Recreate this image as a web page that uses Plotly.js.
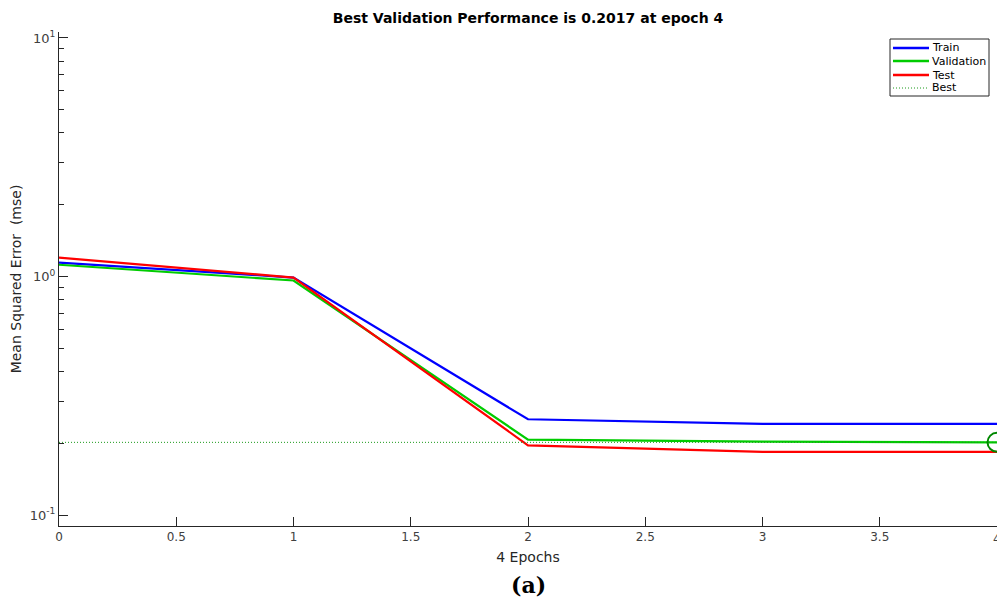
<!DOCTYPE html>
<html>
<head>
<meta charset="utf-8">
<script src="https://cdn.plot.ly/plotly-3.0.1.min.js"></script>
<style>html,body{margin:0;padding:0;background:#fff;}#chart{width:997px;height:604px;}</style>
</head>
<body>
<div id="chart"></div>
<script>
// Training record: mean squared error per epoch
const epochs = [0, 1, 2, 3, 4];
const trainErr = [1.144, 0.99, 0.252, 0.241, 0.241];
const validErr = [1.12, 0.962, 0.207, 0.203, 0.2017];
const testErr = [1.20, 0.99, 0.196, 0.184, 0.184];
const bestEpoch = 4;
const bestValue = 0.2017;
const xTicks = [0, 0.5, 1, 1.5, 2, 2.5, 3, 3.5, 4];
const xTickText = ['0', '0.5', '1', '1.5', '2', '2.5', '3', '3.5', '4'];
const yTicks = [0.1, 1, 10];
const yTickText = ['10<sup>-1</sup>', '10<sup>0</sup>', '10<sup>1</sup>'];
const yMinorTicks = [0.2, 0.3, 0.4, 0.5, 0.6, 0.7, 0.8, 0.9, 2, 3, 4, 5, 6, 7, 8, 9];

const seriesNames = ['Train', 'Validation', 'Test', 'Best'];
const seriesColors = ['#0000ff', '#00cc00', '#ff0000', '#1a9a1a'];

// plot area in pixels, used to place the boxed legend
const W = 997, H = 604, mL = 59, mR = 0, mT = 32, mB = 78;
const pw = W - mL - mR, ph = H - mT - mB;
const px = v => (v - mL) / pw;
const py = v => (H - mB - v) / ph;

const traces = [
  {x: epochs, y: trainErr, name: seriesNames[0], mode: 'lines',
   line: {color: seriesColors[0], width: 2.2}},
  {x: epochs, y: validErr, name: seriesNames[1], mode: 'lines',
   line: {color: seriesColors[1], width: 2.2}},
  {x: epochs, y: testErr, name: seriesNames[2], mode: 'lines',
   line: {color: seriesColors[2], width: 2.2}},
  {x: [0, bestEpoch], y: [bestValue, bestValue], name: seriesNames[3], mode: 'lines',
   line: {color: seriesColors[3], width: 1, dash: '1px,2px'}},
  {x: [bestEpoch], y: [bestValue], mode: 'markers', name: 'best point',
   marker: {symbol: 'circle-open', size: 19, color: '#008800', line: {width: 2, color: '#008800'}}}
];

// legend box, line samples and labels
const legendRows = [48, 61, 75, 88];
const shapes = [
  {type: 'rect', xref: 'paper', yref: 'paper', x0: px(890), x1: px(989), y0: py(96), y1: py(39),
   line: {color: '#262626', width: 1}, fillcolor: '#ffffff', layer: 'above'}
];
const annotations = [];
legendRows.forEach((r, i) => {
  const dotted = i === 3;
  shapes.push({type: 'line', xref: 'paper', yref: 'paper', x0: px(893), x1: px(929), y0: py(r), y1: py(r),
    line: {color: seriesColors[i], width: dotted ? 1 : 2.4, dash: dotted ? '1px,2px' : 'solid'}, layer: 'above'});
  annotations.push({text: seriesNames[i], xref: 'paper', yref: 'paper', x: px(930), y: py(r),
    xanchor: 'left', yanchor: 'middle', showarrow: false,
    font: {family: 'DejaVu Sans, sans-serif', size: 11, color: '#000000'}});
});
// last tick label sits on the right edge of the page
annotations.push({text: xTickText[xTickText.length - 1], xref: 'x', yref: 'paper',
  x: xTicks[xTicks.length - 1], y: py(539), xanchor: 'center', yanchor: 'middle', showarrow: false,
  font: {family: 'DejaVu Sans, sans-serif', size: 12, color: '#404040'}});
annotations.push({text: '<b>(a)</b>', xref: 'paper', yref: 'paper', x: px(528), y: py(585),
  xanchor: 'center', yanchor: 'middle', showarrow: false,
  font: {family: 'DejaVu Serif, serif', size: 22, color: '#000000'}});

const layout = {
  width: W, height: H,
  margin: {l: mL, r: mR, t: mT, b: mB},
  paper_bgcolor: '#ffffff', plot_bgcolor: '#ffffff',
  font: {family: 'DejaVu Sans, sans-serif', size: 12, color: '#404040'},
  title: {text: '<b>Best Validation Performance is 0.2017 at epoch 4</b>',
          font: {family: 'DejaVu Sans, sans-serif', size: 14, color: '#000000'},
          x: 0.5, xanchor: 'center', y: 0.97, yanchor: 'middle', xref: 'paper'},
  xaxis: {
    range: [0, 4], tickvals: xTicks, ticktext: xTickText,
    showgrid: false, zeroline: false, showline: true, linecolor: '#262626', linewidth: 1,
    ticks: 'inside', ticklen: 9, tickcolor: '#262626',
    tickfont: {size: 12, color: '#404040'},
    title: {text: '4 Epochs', font: {size: 14, color: '#262626'}, standoff: 8}
  },
  yaxis: {
    type: 'log', range: [-1.046, 1.025], tickvals: yTicks, ticktext: yTickText,
    showgrid: false, zeroline: false, showline: true, linecolor: '#262626', linewidth: 1,
    ticks: 'inside', ticklen: 9, tickcolor: '#262626',
    minor: {ticks: 'inside', ticklen: 5, tickcolor: '#262626', tickvals: yMinorTicks, showgrid: false},
    tickfont: {size: 13, color: '#404040'},
    title: {text: 'Mean Squared Error  (mse)', font: {size: 14, color: '#262626'}, standoff: 4}
  },
  showlegend: false,
  shapes: shapes,
  annotations: annotations
};

Plotly.newPlot('chart', traces, layout, {displayModeBar: false, staticPlot: true});
</script>
</body>
</html>
